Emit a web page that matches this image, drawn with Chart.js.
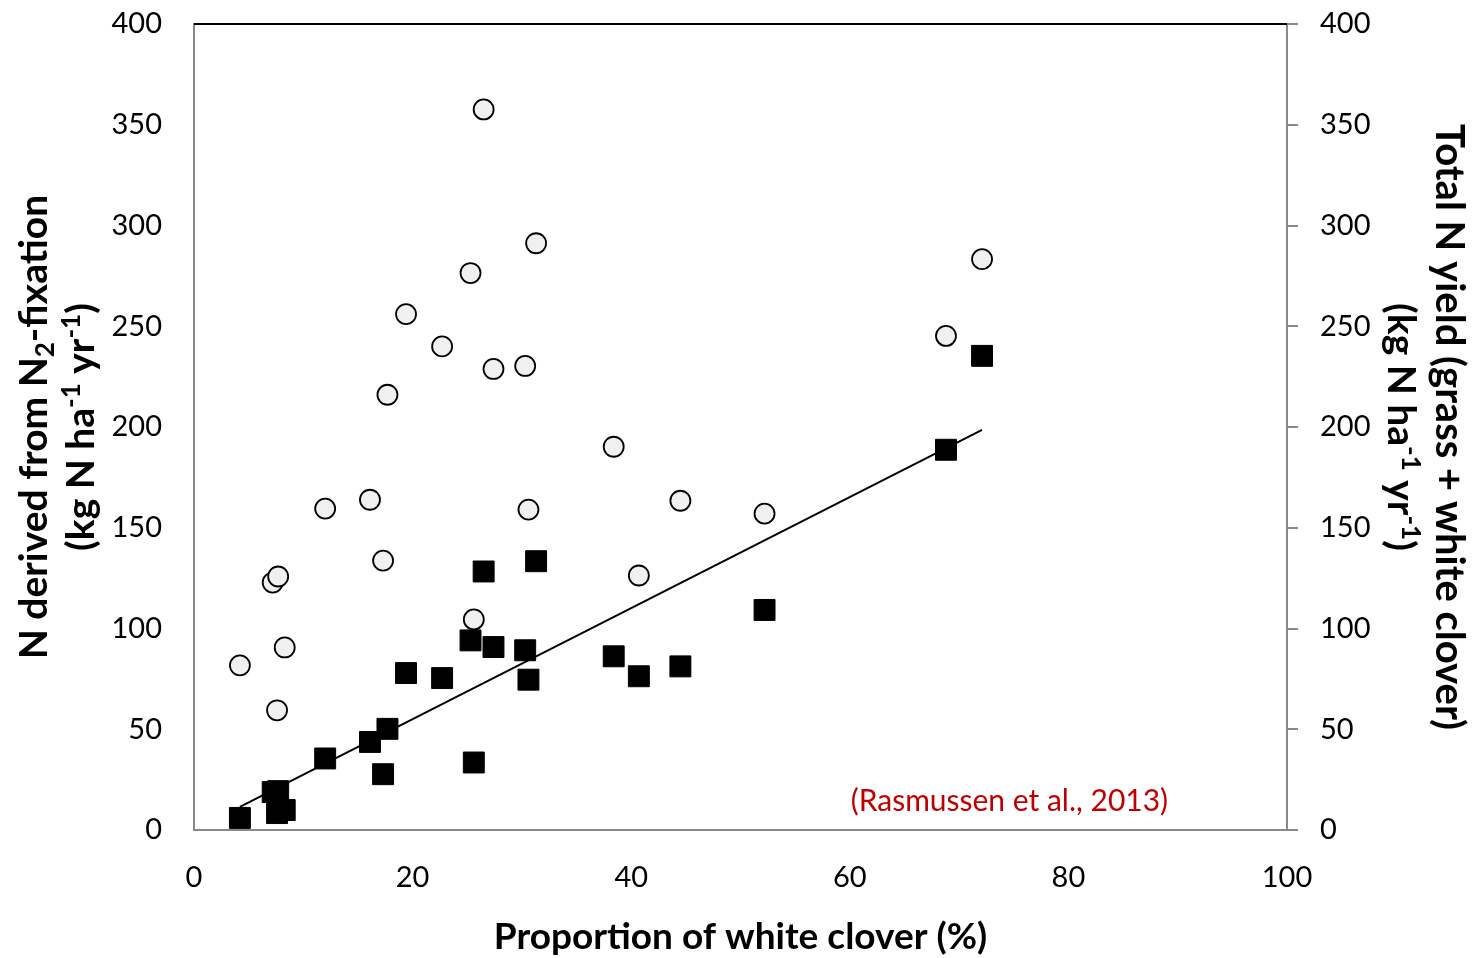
<!DOCTYPE html>
<html>
<head>
<meta charset="utf-8">
<script src="https://cdn.jsdelivr.net/npm/chart.js@4.4.0/dist/chart.umd.min.js"></script>
<style>
  html, body { margin: 0; padding: 0; background: #fff; }
</style>
</head>
<body>
<canvas id="chart" width="1476" height="958"></canvas>
<script>
// proportion of white clover in the sward (%)
const cloverPct = [4.2, 7.2, 7.6, 7.7, 8.3, 12.0, 16.1, 17.3, 17.7, 19.4, 22.7, 25.3,
                   25.6, 26.5, 27.4, 30.3, 30.6, 31.3, 38.4, 40.7, 44.5, 52.2, 68.8, 72.1];
// N derived from N2-fixation (squares, left axis)
const nFixation = [6.0, 18.8, 8.4, 19.3, 9.9, 35.5, 43.7, 27.7, 50.2, 77.9, 75.4, 94.1,
                   33.5, 128.3, 90.8, 89.2, 74.6, 133.4, 86.2, 76.3, 81.2, 109.2, 188.7, 235.3];
// total N yield grass + clover (circles, right axis)
const totalN = [81.7, 122.8, 59.4, 125.8, 90.6, 159.5, 163.9, 133.7, 216, 256, 240, 276.4,
                104.5, 357.6, 228.8, 230.3, 159, 291.2, 190.2, 126.3, 163.4, 157, 245.2, 283.3];
// regression line end points for N fixation
const trendX = [4.2, 72.1];
const trendY = [11.5, 198.6];

const xTicks = [0, 20, 40, 60, 80, 100];
const yTicks = [0, 50, 100, 150, 200, 250, 300, 350, 400];

const FONT = 'Lato';
const GRAY = '#898989';

const squares = cloverPct.map((x, i) => ({ x: x, y: nFixation[i] }));
const circles = cloverPct.map((x, i) => ({ x: x, y: totalN[i] }));
const trend = trendX.map((x, i) => ({ x: x, y: trendY[i] }));

// draw a line of text with sub/superscripts, centred at (cx, cy), rotated
function drawRich(ctx, parts, cx, cy, rot, size) {
    ctx.save();
    ctx.translate(cx, cy);
    ctx.rotate(rot);
    const big = 'bold ' + size + 'px ' + FONT;
    const small = 'bold ' + Math.round(size * 0.66) + 'px ' + FONT;
    let w = 0;
    parts.forEach(p => {
        ctx.font = p.s ? small : big;
        p.w = ctx.measureText(p.t).width;
        w += p.w;
    });
    let x = -w / 2;
    const base = size * 0.36;
    ctx.textAlign = 'left';
    ctx.textBaseline = 'alphabetic';
    ctx.fillStyle = '#000';
    parts.forEach(p => {
        ctx.font = p.s ? small : big;
        let dy = 0;
        if (p.s === 'sup') dy = -size * 0.36;
        if (p.s === 'sub') dy = size * 0.18;
        ctx.fillText(p.t, x, base + dy);
        x += p.w;
    });
    ctx.restore();
}

const unitParts = () => [
    { t: '(kg N ha' }, { t: '-1', s: 'sup' }, { t: ' yr' }, { t: '-1', s: 'sup' }, { t: ')' }
];

const titlesPlugin = {
    id: 'titles',
    afterDraw(chart) {
        const ctx = chart.ctx;
        const a = chart.chartArea;
        const midY = (a.top + a.bottom) / 2;
        // top frame line
        ctx.save();
        ctx.strokeStyle = '#000';
        ctx.lineWidth = 2;
        ctx.beginPath();
        ctx.moveTo(a.left, a.top);
        ctx.lineTo(a.right, a.top);
        ctx.stroke();
        ctx.restore();
        // left axis
        drawRich(ctx, [{ t: 'N derived from N' }, { t: '2', s: 'sub' }, { t: '-fixation' }],
                 a.left - 161, midY, -Math.PI / 2, 39);
        drawRich(ctx, unitParts(), a.left - 114, midY, -Math.PI / 2, 39);
        // right axis
        drawRich(ctx, [{ t: 'Total N yield (grass + white clover)' }],
                 a.right + 163, midY, Math.PI / 2, 40);
        drawRich(ctx, unitParts(), a.right + 115, midY, Math.PI / 2, 39);
        // x axis
        drawRich(ctx, [{ t: 'Proportion of white clover (%)' }],
                 (a.left + a.right) / 2, 936, 0, 37);
        // source note
        const sx = chart.scales.x.getPixelForValue(74.6);
        const sy = chart.scales.y.getPixelForValue(14.2);
        ctx.save();
        ctx.font = '30px ' + FONT;
        ctx.fillStyle = '#c00000';
        ctx.textAlign = 'center';
        ctx.textBaseline = 'middle';
        ctx.fillText('(Rasmussen et al., 2013)', sx, sy);
        ctx.restore();
    }
};

const tickFont = { family: FONT, size: 29 };

// fixed-size vertical axes, no extra room reserved for the end labels
const fitY = w => s => { s.width = w; s.paddingTop = 0; s.paddingBottom = 0; };

new Chart(document.getElementById('chart').getContext('2d'), {
    type: 'scatter',
    data: {
        datasets: [
            {
                label: 'N fixation',
                data: squares,
                pointStyle: 'rect',
                pointRadius: 14.8,
                pointHoverRadius: 14.8,
                backgroundColor: '#000',
                borderColor: '#000',
                borderWidth: 1,
                yAxisID: 'y',
                order: 1
            },
            {
                label: 'Total N yield',
                data: circles,
                pointStyle: 'circle',
                pointRadius: 10,
                pointHoverRadius: 10,
                backgroundColor: '#f0f0f0',
                borderColor: '#000',
                borderWidth: 1.8,
                yAxisID: 'y2',
                order: 2
            },
            {
                label: 'trend',
                data: trend,
                showLine: true,
                borderColor: '#000',
                borderWidth: 2,
                pointRadius: 0,
                yAxisID: 'y',
                order: 3
            }
        ]
    },
    options: {
        responsive: false,
        animation: false,
        devicePixelRatio: 1,
        layout: { padding: { top: 24 } },
        plugins: {
            legend: { display: false },
            tooltip: { enabled: false }
        },
        scales: {
            x: {
                type: 'linear',
                position: 'bottom',
                min: 0,
                max: 100,
                afterBuildTicks: s => { s.ticks = xTicks.map(v => ({ value: v })); },
                ticks: { font: tickFont, color: '#000', padding: 30 },
                grid: { display: false, drawTicks: false },
                border: { color: GRAY, width: 2 },
                afterFit: s => { s.height = 128; s.paddingLeft = 0; s.paddingRight = 0; }
            },
            y: {
                type: 'linear',
                position: 'left',
                min: 0,
                max: 400,
                afterBuildTicks: s => { s.ticks = yTicks.map(v => ({ value: v })); },
                ticks: { font: tickFont, color: '#000', padding: 32 },
                grid: { display: false, drawTicks: false },
                border: { color: GRAY, width: 2 },
                afterFit: fitY(194)
            },
            y2: {
                type: 'linear',
                position: 'right',
                min: 0,
                max: 400,
                afterBuildTicks: s => { s.ticks = yTicks.map(v => ({ value: v })); },
                ticks: { font: tickFont, color: '#000', padding: 22 },
                grid: { drawOnChartArea: false, tickLength: 11, color: GRAY, lineWidth: 2 },
                border: { color: GRAY, width: 2 },
                afterFit: fitY(189)
            }
        }
    },
    plugins: [titlesPlugin]
});
</script>
</body>
</html>
